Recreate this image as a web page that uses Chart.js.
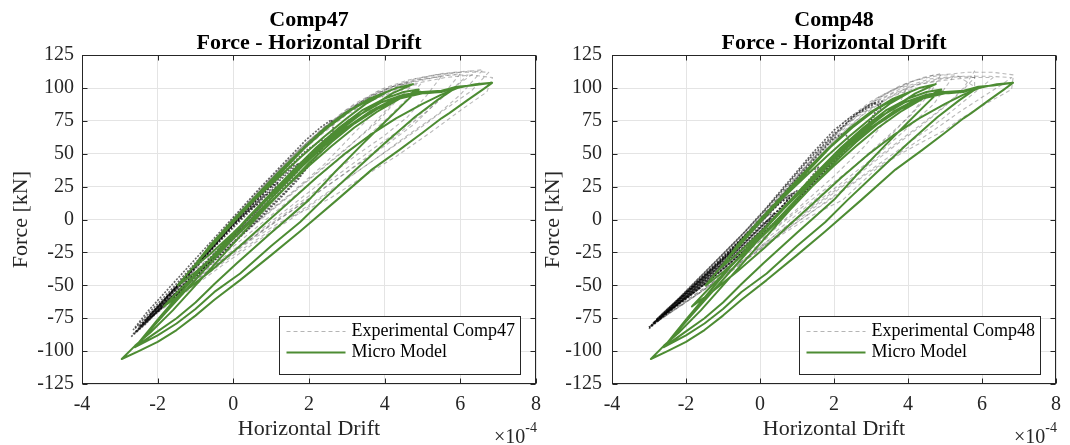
<!DOCTYPE html>
<html>
<head>
<meta charset="utf-8">
<script src="https://cdn.jsdelivr.net/npm/chart.js@4.4.1/dist/chart.umd.min.js"></script>
<style>
  html, body { margin: 0; padding: 0; background: #fff; }
  #wrap { position: relative; width: 1070px; height: 445px; overflow: hidden; }
  canvas { position: absolute; top: 0; }
  #c47 { left: 0; width: 560px; height: 445px; }
  #c48 { left: 540px; width: 530px; height: 445px; }
</style>
</head>
<body>
<div id="wrap">
  <canvas id="c47" width="560" height="445"></canvas>
  <canvas id="c48" width="530" height="445"></canvas>
</div>
<script>
// drift values are in units of 1e-4 (axis shows x10^-4), force in kN
const driftTicks = [-4, -2, 0, 2, 4, 6, 8];
const forceTicks = [-125, -100, -75, -50, -25, 0, 25, 50, 75, 100, 125];
const plotTitle = "Force - Horizontal Drift";
const modelLabel = "Micro Model";

// micro model response (same curve on both panels)
const microModel = [
  [0,0],[0.6,16],[1.2,32],[1.8,48],[2.4,63],[3.0,77],[3.5,88],[4.05,97],
  [3.6,92],[3.0,82],[2.4,69],[1.8,53],[1.2,36],[0.6,18],[0,0],[-0.6,-19],[-1.08,-37],
  [-0.6,-26],[0,-10],[0.6,7],[1.2,24],[1.8,41],[2.4,57],[3.0,72],[3.6,85],[4.2,96],[4.75,103],
  [4.3,100],[3.7,93],[3.1,83],[2.5,70],[1.9,55],[1.3,37],[0.7,19],[0.1,1],[-0.5,-18],[-1.0,-34],[-1.47,-50],
  [-1.0,-40],[-0.4,-25],[0.2,-9],[0.8,8],[1.4,25],[2.0,41],[2.6,56],[3.2,70],[3.8,82],[4.4,92],[4.85,98],[5.1,96],[5.45,97],[5.92,101],
  [5.5,98],[5.0,97],[4.5,95],[3.9,89],[3.3,79],[2.7,66],[2.1,51],[1.5,34],[0.9,16],[0.3,-2],[-0.3,-21],[-0.9,-39],[-1.4,-53],[-1.84,-66],
  [-1.3,-55],[-0.6,-39],[0.1,-22],[0.8,-4],[1.5,14],[2.2,32],[2.9,49],[3.6,64],[4.3,77],[5.0,88],[5.5,95],[5.92,100],[6.4,103],[6.84,104],
  [6.3,102],[5.9,101],[5.4,97],[4.8,96],[4.2,91],[3.6,82],[3.0,70],[2.4,56],[1.8,40],[1.2,22],[0.6,4],[0,-14],[-0.6,-33],[-1.2,-52],[-1.8,-71],[-2.2,-84],[-2.6,-97],
  [-2.0,-85],[-1.5,-75],[-1.0,-63],[-0.5,-49],[0.1,-33],[1.0,-10],[2.0,15],[2.68,36],[3.4,57],[4.0,74],[4.5,88],[4.9,99],
  [4.5,97],[4.0,92],[3.4,83],[2.8,70],[2.2,55],[1.6,38],[1.0,20],[0.4,2],[-0.2,-17],[-0.8,-36],[-1.4,-56],[-2.0,-76],[-2.6,-97],
  [-2.0,-88],[-1.5,-79],[-1.0,-68],[-0.5,-55],[0.18,-41],[1.0,-20],[1.76,-2],[2.37,15],[3.16,36],[4.0,58],[4.8,78],[5.4,91],[5.92,101],
  [5.5,97],[5.0,96],[4.4,92],[3.8,84],[3.2,73],[2.6,59],[2.0,43],[1.4,25],[0.8,7],[0.2,-12],[-0.4,-31],[-1.0,-50],[-1.6,-69],[-2.2,-86],[-2.6,-96],[-2.95,-106],
  [-2.5,-100],[-2.0,-93],[-1.5,-84],[-1.0,-73],[-0.5,-61],[0.18,-46],[1.0,-27],[1.76,-9],[2.74,15],[3.66,38],[4.39,53],[5.0,66],[5.5,77],[5.71,81],[6.2,91],[6.6,99],[6.84,104]
];

// Comp47 experiment: small repeated cycles (dark band)
const comp47Dense = [
  [[-2.7,-89],[-2.3,-79],[-1.9,-66],[-1.5,-55],[-1.0,-40],[-0.5,-26],[0,-11],[0.4,1],[0.8,14],[0.5,9],[0,-4],[-0.6,-23],[-1.2,-42],[-1.8,-61],[-2.3,-76],[-2.6,-86]],
  [[-2.65,-87],[-2.2,-75],[-1.7,-61],[-1.2,-46],[-0.7,-32],[-0.2,-17],[0.3,-2],[0.7,10],[1.1,22],[0.8,18],[0.3,4],[-0.2,-11],[-0.8,-29],[-1.4,-48],[-2.0,-66],[-2.5,-81]],
  [[-2.6,-86],[-2.1,-73],[-1.6,-60],[-1.1,-45],[-0.6,-31],[-0.1,-16],[0.4,-2],[0.9,13],[1.3,27],[1.0,22],[0.5,8],[0,-6],[-0.5,-21],[-1.0,-37],[-1.6,-56],[-2.1,-71],[-2.5,-82]],
  [[-2.55,-85],[-2.05,-71],[-1.55,-59],[-1.05,-44],[-0.55,-30],[-0.05,-14],[0.45,0],[0.9,16],[1.2,28],[0.9,24],[0.4,9],[-0.1,-5],[-0.6,-20],[-1.1,-36],[-1.7,-55],[-2.2,-70],[-2.6,-83]],
  [[-2.4,-80],[-1.9,-67],[-1.4,-53],[-0.9,-39],[-0.4,-24],[0.1,-9],[0.6,6],[1.0,18],[1.5,32],[1.9,44],[1.6,41],[1.1,28],[0.5,11],[-0.1,-7],[-0.7,-26],[-1.3,-45],[-1.9,-63],[-2.4,-79]],
  [[-2.5,-82],[-2.0,-70],[-1.5,-57],[-1.0,-43],[-0.5,-29],[0,-15],[0.6,2],[1.1,17],[1.6,33],[2.0,47],[1.7,42],[1.2,29],[0.6,12],[0,-3],[-0.6,-22],[-1.2,-41],[-1.8,-60],[-2.3,-76]],
  [[-2.3,-76],[-1.8,-64],[-1.2,-49],[-0.6,-34],[0,-18],[0.6,-2],[1.2,15],[1.7,30],[2.1,45],[2.55,62],[2.3,60],[1.9,52],[1.4,38],[0.8,20],[0.2,3],[-0.4,-16],[-1.0,-35],[-1.6,-54],[-2.2,-72]],
  [[-2.2,-72],[-1.6,-58],[-1.0,-43],[-0.4,-28],[0.2,-12],[0.8,5],[1.4,22],[1.9,38],[2.3,52],[2.65,68],[2.6,76],[2.3,70],[1.9,60],[1.3,42],[0.7,24],[0.1,5],[-0.5,-14],[-1.1,-33],[-1.7,-52],[-2.3,-71],[-2.65,-84]]
];

// Comp47 experiment: larger cycles (light dashed)
const comp47Loops = [
  [[-1.5,-52],[-0.8,-33],[0,-12],[0.8,8],[1.6,30],[2.3,50],[2.9,70],[3.3,88],[2.8,78],[2.2,64],[1.5,45],[0.8,25],[0,0],[-0.8,-27],[-1.6,-55]],
  [[-1.6,-55],[-0.8,-36],[0,-15],[0.8,3],[1.6,22],[2.4,42],[3.0,60],[3.6,78],[4.05,98],[3.6,92],[3.0,82],[2.4,70],[1.8,54],[1.0,31],[0.2,5],[-0.6,-22],[-1.4,-48],[-1.8,-60]],
  [[-1.7,-58],[-0.9,-40],[-0.1,-19],[0.7,0],[1.5,19],[2.3,38],[3.1,57],[3.8,74],[4.3,90],[4.7,101],[4.3,98],[3.7,91],[3.0,80],[2.3,64],[1.5,44],[0.7,20],[-0.1,-5],[-0.9,-31],[-1.7,-57]],
  [[-1.8,-60],[-1.0,-42],[-0.2,-22],[0.6,-3],[1.4,16],[2.2,35],[3.0,54],[3.6,70],[4.2,88],[4.6,104],[4.2,99],[3.6,92],[3.0,82],[2.3,66],[1.6,47],[0.8,24],[0,-1],[-0.8,-28],[-1.6,-55],[-2.0,-68]],
  [[-2.0,-68],[-1.2,-50],[-0.4,-30],[0.4,-11],[1.2,8],[2.0,27],[2.8,46],[3.5,62],[4.1,78],[4.6,92],[4.95,103],[4.5,101],[3.9,96],[3.2,86],[2.5,72],[1.8,55],[1.0,32],[0.2,7],[-0.6,-21],[-1.4,-47],[-1.9,-64]],
  [[-1.9,-64],[-1.0,-45],[0,-23],[0.8,-6],[1.6,12],[2.4,30],[3.2,48],[4.0,64],[4.6,78],[5.1,94],[5.5,109],[5.0,106],[4.4,102],[3.8,96],[3.0,84],[2.3,68],[1.5,47],[0.7,23],[-0.1,-2],[-0.9,-31],[-1.7,-57],[-2.1,-70]],
  [[-2.0,-66],[-1.1,-48],[-0.1,-26],[0.9,-6],[1.8,12],[2.7,30],[3.6,49],[4.4,66],[5.1,82],[5.7,97],[6.2,110],[5.7,110],[5.0,107],[4.3,102],[3.6,94],[2.8,78],[2.0,58],[1.2,35],[0.4,10],[-0.4,-17],[-1.2,-44],[-2.0,-68]],
  [[-2.1,-70],[-1.2,-51],[-0.3,-31],[0.6,-12],[1.5,6],[2.4,24],[3.3,42],[4.1,58],[4.8,73],[5.4,90],[6.0,111],[5.5,109],[4.9,106],[4.2,101],[3.5,92],[2.8,79],[2.0,60],[1.2,37],[0.4,12],[-0.4,-15],[-1.2,-42],[-2.0,-67]],
  [[-1.8,-62],[-0.8,-42],[0.2,-20],[1.1,-1],[2.0,18],[2.9,37],[3.7,54],[4.5,70],[5.2,86],[5.8,100],[6.4,112],[5.9,112],[5.2,109],[4.5,104],[3.8,97],[3.0,83],[2.2,64],[1.4,41],[0.6,16],[-0.2,-10],[-1.0,-37],[-1.8,-62]],
  [[-2.0,-67],[-1.0,-48],[0,-27],[1.0,-8],[2.0,11],[2.9,29],[3.8,47],[4.6,64],[5.4,80],[6.0,95],[6.6,114],[6.0,112],[5.3,110],[4.6,106],[3.9,99],[3.2,88],[2.4,70],[1.6,49],[0.8,25],[0,-1],[-0.8,-28],[-1.6,-55],[-2.2,-74]],
  [[-2.3,-77],[-1.3,-56],[-0.3,-35],[0.6,-17],[1.5,0],[2.4,18],[3.3,37],[4.2,55],[5.0,71],[5.7,86],[6.3,98],[6.75,112],[6.2,113],[5.5,111],[4.8,107],[4.1,100],[3.4,90],[2.6,73],[1.8,52],[1.0,29],[0.2,3],[-0.6,-23],[-1.4,-49],[-2.2,-73]],
  [[-2.2,-74],[-1.2,-52],[-0.2,-30],[0.5,-15],[1.24,-2],[2.55,16],[3.4,32],[4.3,48],[5.2,66],[6.05,84],[6.7,97],[6.85,108],[6.3,110],[5.6,108],[4.9,104],[4.2,98],[3.5,90],[2.8,78],[2.1,60],[1.3,38],[0.5,13],[-0.3,-13],[-1.1,-40],[-1.9,-65],[-2.5,-83]]
];

// Comp48 experiment: small repeated cycles (dark band)
const comp48Dense = [
  [[-3.0,-83],[-2.5,-71],[-2.0,-59],[-1.5,-47],[-1.0,-35],[-0.5,-22],[0,-9],[0.3,0],[0.1,-2],[-0.4,-16],[-0.9,-29],[-1.5,-44],[-2.0,-56],[-2.5,-68],[-2.9,-79]],
  [[-2.95,-81],[-2.45,-69],[-1.95,-57],[-1.45,-45],[-0.95,-32],[-0.45,-19],[0.05,-5],[0.4,5],[0.2,3],[-0.3,-11],[-0.8,-25],[-1.3,-38],[-1.8,-51],[-2.3,-64],[-2.85,-78]],
  [[-2.9,-79],[-2.4,-68],[-1.9,-57],[-1.4,-45],[-0.9,-33],[-0.4,-20],[0.1,-6],[0.5,6],[0.8,17],[0.5,12],[0,-1],[-0.5,-15],[-1.0,-29],[-1.5,-42],[-2.0,-55],[-2.5,-68],[-2.8,-76]],
  [[-2.85,-78],[-2.35,-67],[-1.85,-55],[-1.35,-42],[-0.85,-30],[-0.35,-16],[0.15,-2],[0.6,10],[1.0,22],[0.7,17],[0.2,3],[-0.3,-11],[-0.85,-26],[-1.4,-40],[-1.95,-54],[-2.5,-69],[-2.95,-81]],
  [[-2.75,-77],[-2.25,-63],[-1.75,-51],[-1.25,-39],[-0.75,-27],[-0.25,-13],[0.25,0],[0.65,12],[0.9,20],[0.6,15],[0.1,1],[-0.45,-13],[-1.0,-28],[-1.6,-45],[-2.2,-61],[-2.7,-75]],
  [[-2.8,-76],[-2.3,-66],[-1.8,-55],[-1.3,-43],[-0.8,-31],[-0.3,-18],[0.2,-4],[0.7,10],[1.2,26],[1.6,40],[1.3,36],[0.8,22],[0.3,7],[-0.2,-8],[-0.8,-25],[-1.4,-41],[-2.0,-57],[-2.6,-72]],
  [[-2.6,-72],[-2.1,-62],[-1.5,-49],[-0.9,-35],[-0.3,-20],[0.3,-5],[0.9,12],[1.5,30],[2.0,46],[2.4,60],[2.3,66],[2.0,62],[1.5,47],[0.9,28],[0.3,9],[-0.3,-9],[-0.9,-26],[-1.5,-43],[-2.1,-59],[-2.5,-70]],
  [[-2.5,-70],[-2.0,-60],[-1.4,-47],[-0.8,-33],[-0.2,-18],[0.4,-2],[1.0,15],[1.6,33],[2.2,50],[2.8,68],[3.3,86],[3.1,88],[2.6,80],[2.0,65],[1.3,45],[0.6,22],[0,3],[-0.6,-15],[-1.2,-32],[-1.8,-49],[-2.4,-66],[-3.0,-82]],
  [[-3.0,-82],[-2.4,-69],[-1.8,-56],[-1.2,-42],[-0.6,-28],[0,-13],[0.6,3],[1.2,20],[1.8,38],[2.4,56],[2.9,72],[3.3,90],[3.0,88],[2.5,79],[2.0,68],[1.4,50],[0.8,30],[0.2,10],[-0.4,-9],[-1.0,-26],[-1.6,-43],[-2.2,-60],[-2.8,-76]]
];

// Comp48 experiment: larger cycles (light dashed)
const comp48Loops = [
  [[-2.0,-60],[-1.0,-38],[0,-16],[1.0,8],[2.0,33],[2.8,55],[3.4,75],[3.8,90],[4.0,103],[3.6,99],[3.0,90],[2.3,75],[1.5,52],[0.7,26],[0,2],[-0.8,-24],[-1.6,-48],[-2.3,-66]],
  [[-2.2,-63],[-1.2,-43],[-0.2,-21],[0.8,2],[1.8,24],[2.8,46],[3.6,66],[4.2,84],[4.6,100],[4.2,100],[3.6,94],[2.9,83],[2.1,63],[1.3,40],[0.5,14],[-0.3,-11],[-1.1,-34],[-1.9,-56]],
  [[-2.3,-66],[-1.3,-46],[-0.3,-25],[0.7,-3],[1.7,20],[2.6,42],[3.4,62],[4.1,80],[4.6,96],[4.9,111],[4.4,108],[3.8,102],[3.2,93],[2.5,78],[1.7,55],[0.9,29],[0.1,4],[-0.7,-22],[-1.5,-45],[-2.4,-69]],
  [[-2.4,-69],[-1.4,-50],[-0.4,-30],[0.6,-9],[1.6,12],[2.6,33],[3.5,53],[4.3,70],[5.0,86],[5.5,100],[5.8,113],[5.8,101],[5.3,110],[4.7,110],[4.0,104],[3.3,94],[2.5,78],[1.7,56],[0.9,30],[0.1,4],[-0.8,-24],[-1.7,-50],[-2.5,-72]],
  [[-2.6,-74],[-1.6,-55],[-0.6,-34],[0.4,-12],[1.4,9],[2.4,30],[3.3,50],[4.1,67],[4.8,82],[5.4,96],[5.8,108],[5.3,109],[4.6,107],[3.9,101],[3.2,91],[2.4,74],[1.6,52],[0.8,27],[0,1],[-0.8,-24],[-1.6,-47],[-2.4,-68]],
  [[-2.7,-76],[-1.7,-56],[-0.7,-36],[0.3,-14],[1.3,8],[2.3,30],[3.2,50],[4.0,70],[4.7,88],[5.2,108],[4.8,106],[4.2,102],[3.5,93],[2.8,80],[2.0,60],[1.2,36],[0.4,11],[-0.4,-14],[-1.2,-36],[-2.0,-56]],
  [[-2.8,-78],[-1.8,-59],[-0.8,-40],[0.2,-18],[1.2,2],[2.2,22],[3.2,42],[4.1,60],[4.9,76],[5.6,92],[6.3,108],[5.7,108],[5.0,106],[4.3,103],[3.6,96],[2.9,86],[2.1,66],[1.3,42],[0.5,15],[-0.3,-11],[-1.1,-35],[-1.9,-56],[-2.7,-76]],
  [[-2.9,-80],[-1.9,-61],[-0.9,-41],[0.1,-20],[1.1,0],[2.1,19],[3.0,37],[3.9,53],[4.7,68],[5.4,82],[6.0,93],[6.5,102],[6.8,108],[6.2,109],[5.5,109],[4.8,107],[4.1,102],[3.4,92],[2.6,78],[1.8,56],[1.0,32],[0.2,6],[-0.6,-19],[-1.4,-43],[-2.2,-62]],
  [[-2.5,-72],[-1.5,-53],[-0.5,-33],[0.5,-13],[1.4,3],[2.24,15],[3.12,38],[3.8,50],[4.45,60],[5.0,68],[5.44,77],[6.1,88],[6.8,99],[6.85,110],[6.3,112],[5.6,112],[4.9,110],[4.2,106],[3.5,97],[2.8,85],[2.0,64],[1.2,39],[0.4,12],[-0.4,-14],[-1.2,-38],[-2.0,-58],[-2.8,-78]]
];

const GREEN = "#4d8c33";
const INK = "#262626";
const SERIF = "'Liberation Serif', 'Times New Roman', serif";

Chart.defaults.font.family = SERIF;
Chart.defaults.color = INK;

const toXY = (pts) => pts.map((p) => ({ x: p[0], y: p[1] }));

// box, inward ticks, legend and exponent label (MATLAB look)
const framePlugin = {
  id: "frame",
  afterDraw(chart, args, opts) {
    const { ctx, chartArea: a, scales } = chart;
    const L = Math.round(a.left) + 0.5, R = Math.round(a.right) - 0.5;
    const T = Math.round(a.top) + 0.5, B = Math.round(a.bottom) - 0.5;
    ctx.save();
    ctx.strokeStyle = INK;
    ctx.lineWidth = 1;
    ctx.setLineDash([]);
    ctx.strokeRect(L, T, R - L, B - T);
    ctx.beginPath();
    driftTicks.forEach((v) => {
      const px = Math.round(scales.x.getPixelForValue(v)) + 0.5;
      ctx.moveTo(px, B); ctx.lineTo(px, B - 5);
      ctx.moveTo(px, T); ctx.lineTo(px, T + 5);
    });
    forceTicks.forEach((v) => {
      const py = Math.round(scales.y.getPixelForValue(v)) + 0.5;
      ctx.moveTo(L, py); ctx.lineTo(L + 5, py);
      ctx.moveTo(R, py); ctx.lineTo(R - 5, py);
    });
    ctx.stroke();

    // legend, bottom-right inside the axes
    ctx.font = "18px " + SERIF;
    const tw = Math.max(ctx.measureText(opts.expLabel).width, ctx.measureText(modelLabel).width);
    const w = Math.round(72 + tw + 6), h = 58;
    const bx = Math.round(a.right - 16 - w) + 0.5, by = Math.round(a.bottom - 10 - h) + 0.5;
    ctx.fillStyle = "#fff";
    ctx.fillRect(bx, by, w, h);
    ctx.strokeStyle = INK;
    ctx.strokeRect(bx, by, w, h);
    const r1 = by + 15, r2 = by + 36;
    ctx.beginPath();
    ctx.strokeStyle = "rgba(150,150,150,0.7)";
    ctx.setLineDash([4, 3]);
    ctx.moveTo(bx + 7, r1); ctx.lineTo(bx + 66, r1);
    ctx.stroke();
    ctx.beginPath();
    ctx.setLineDash([]);
    ctx.strokeStyle = GREEN;
    ctx.lineWidth = 2;
    ctx.moveTo(bx + 7, r2); ctx.lineTo(bx + 66, r2);
    ctx.stroke();
    ctx.fillStyle = "#000";
    ctx.textBaseline = "middle";
    ctx.textAlign = "left";
    ctx.fillText(opts.expLabel, bx + 72, r1);
    ctx.fillText(modelLabel, bx + 72, r2);

    // x10^-4 exponent label under the right end of the x axis
    ctx.textBaseline = "alphabetic";
    ctx.textAlign = "right";
    ctx.font = "14px " + SERIF;
    ctx.fillStyle = INK;
    const ex = a.right + 1;
    ctx.fillText("-4", ex, 432);
    const ew = ctx.measureText("-4").width;
    ctx.font = "20px " + SERIF;
    ctx.fillText("\u00d710", ex - ew, 443);
    ctx.restore();
  },
};

function buildChart(canvasId, name, dense, loops, cfg) {
  const datasets = [
    {
      data: toXY(microModel),
      borderColor: GREEN,
      borderWidth: 2,
    },
  ];
  dense.forEach((loop) =>
    datasets.push({
      data: toXY(loop),
      borderColor: "rgba(0,0,0,0.6)",
      borderWidth: 1.6,
      borderDash: [2, 1.5],
    })
  );
  loops.forEach((loop) =>
    datasets.push({
      data: toXY(loop),
      borderColor: "rgba(70,70,70,0.38)",
      borderWidth: 1.1,
      borderDash: [4, 3],
    })
  );
  datasets.forEach((d) => {
    d.showLine = true;
    d.pointRadius = 0;
    d.tension = 0;
    d.fill = false;
    d.borderJoinStyle = "round";
  });

  new Chart(document.getElementById(canvasId), {
    type: "scatter",
    data: { datasets },
    plugins: [framePlugin],
    options: {
      responsive: false,
      animation: false,
      events: [],
      devicePixelRatio: 1,
      layout: { padding: { left: 0, right: cfg.rightPad, top: 0, bottom: 0 } },
      plugins: {
        legend: { display: false },
        tooltip: { enabled: false },
        title: {
          display: true,
          fullSize: false,
          text: [name, plotTitle],
          color: "#000",
          font: { family: SERIF, size: 22, weight: "bold", lineHeight: 1.05 },
          padding: { top: 9, bottom: 0 },
        },
        frame: { expLabel: "Experimental " + name },
      },
      scales: {
        x: {
          type: "linear",
          min: -4,
          max: 8,
          afterBuildTicks: (s) => { s.ticks = driftTicks.map((v) => ({ value: v })); },
          afterFit: (s) => { s.height = 61; },
          ticks: {
            callback: (v) => String(v),
            font: { size: 20 },
            padding: 9,
            maxRotation: 0,
            autoSkip: false,
          },
          grid: { color: "#e4e4e4", drawTicks: false },
          border: { display: false },
          title: {
            display: true,
            text: "Horizontal Drift",
            font: { size: 22 },
            padding: { top: 0, bottom: 3 },
          },
        },
        y: {
          type: "linear",
          min: -125,
          max: 125,
          afterBuildTicks: (s) => { s.ticks = forceTicks.map((v) => ({ value: v })); },
          afterFit: (s) => { s.width = cfg.yWidth; },
          ticks: {
            callback: (v) => String(v),
            font: { size: 20 },
            padding: cfg.tickPad,
            autoSkip: false,
          },
          grid: { color: "#e4e4e4", drawTicks: false },
          border: { display: false },
          title: {
            display: true,
            text: "Force [kN]",
            font: { size: 22 },
            padding: { top: cfg.titlePad, bottom: 0 },
          },
        },
      },
    },
  });
}

buildChart("c47", "Comp47", comp47Dense, comp47Loops, { yWidth: 82, rightPad: 24, tickPad: 8, titlePad: 8 });
buildChart("c48", "Comp48", comp48Dense, comp48Loops, { yWidth: 72, rightPad: 7, tickPad: 10, titlePad: 0 });
</script>
</body>
</html>
